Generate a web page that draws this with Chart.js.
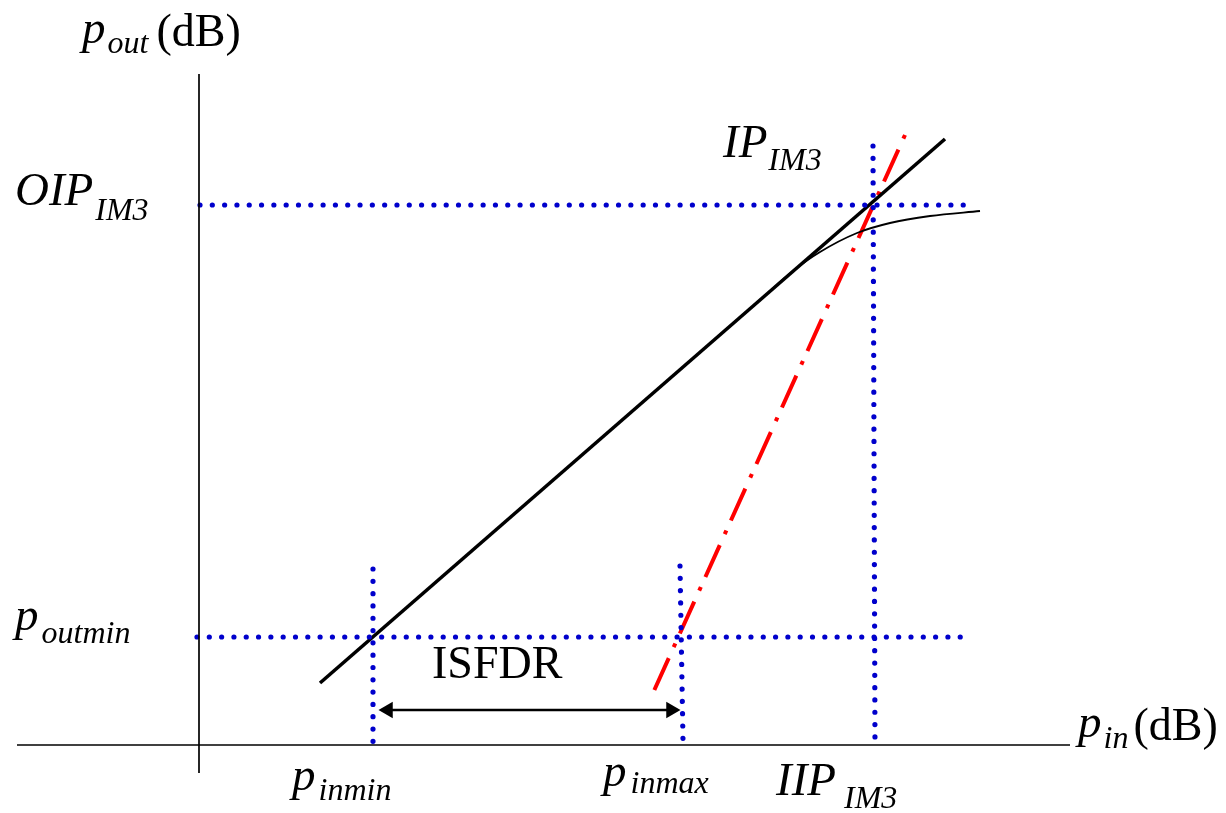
<!DOCTYPE html>
<html>
<head>
<meta charset="utf-8">
<script src="https://cdn.jsdelivr.net/npm/chart.js@4"></script>
<style>
  html, body { margin: 0; padding: 0; background: #fff; }
  #wrap { width: 1226px; height: 813px; }
</style>
</head>
<body>
<div id="wrap"><canvas id="ip3" width="1226" height="813"></canvas></div>
<script>
// input levels: p_inmin, p_inmax, IIP_IM3
const inputMarks = [174, 482, 675];
// output levels: p_outmin, OIP_IM3
const outputMarks = [108, 540];

// fundamental (slope 1) line
const fundIn = [121, 746];
const fundOut = [62, 606];
// third order intermod (slope 3) line
const im3In = [706, 454];
const im3Out = [610, 52];
// compressed real output
const compIn = [517, 561, 594, 621, 658, 691, 731, 781];
const compOut = [407, 445, 474, 493, 512, 522, 529, 534];

const pts = (xs, ys) => xs.map((x, i) => ({ x: x, y: ys[i] }));

const BLUE = "#0000cc";
const dotted = {
    borderColor: BLUE, borderWidth: 5.2, borderDash: [0.01, 12.3],
    borderCapStyle: "round", pointRadius: 0, showLine: true, fill: false
};

const SERIF = '"Liberation Serif", "Times New Roman", serif';
const IT = "italic 47px " + SERIF;
const IT_S = "italic 32px " + SERIF;
const UP = "46px " + SERIF;

// [text, font, gap before, baseline shift]
const labels = [
    { x: -117, y: 702, parts: [["p", IT, 0, 0], ["out", IT_S, 2, 10], ["(dB)", UP, 8, 3]] },
    { x: -184, y: 540, parts: [["OIP", IT, 0, 0], ["IM3", IT_S, 2, 15]] },
    { x: 524, y: 588, parts: [["IP", IT, 0, 0], ["IM3", IT_S, 1, 13]] },
    { x: -184, y: 115, parts: [["p", IT, 0, 0], ["outmin", IT_S, 3, 13]] },
    { x: 233, y: 67, parts: [["ISFDR", UP, 0, 0]] },
    { x: 93, y: -45, parts: [["p", IT, 0, 0], ["inmin", IT_S, 3, 10]] },
    { x: 404, y: -41, parts: [["p", IT, 0, 0], ["inmax", IT_S, 4, 7]] },
    { x: 577, y: -50, parts: [["IIP", IT, 0, 0], ["IM3", IT_S, 8, 13]] },
    { x: 879, y: 8, parts: [["p", IT, 0, 0], ["in", IT_S, 2, 11], ["(dB)", UP, 5, 3]] }
];

const textPlugin = {
    id: "texts",
    afterDatasetsDraw(chart) {
        const ctx = chart.ctx, xs = chart.scales.x, ys = chart.scales.y;
        ctx.save();
        ctx.fillStyle = "#000";
        ctx.textBaseline = "alphabetic";
        ctx.textAlign = "left";
        labels.forEach(l => {
            let px = xs.getPixelForValue(l.x);
            const py = ys.getPixelForValue(l.y);
            l.parts.forEach(p => {
                ctx.font = p[1];
                px += p[2];
                ctx.fillText(p[0], px, py + p[3]);
                px += ctx.measureText(p[0]).width;
            });
        });
        ctx.restore();
    }
};

new Chart(document.getElementById("ip3"), {
    type: "scatter",
    data: {
        datasets: [
            // axes
            { data: [{ x: -182, y: 0 }, { x: 871, y: 0 }], borderColor: "#000", borderWidth: 1.7, pointRadius: 0, showLine: true },
            { data: [{ x: 0, y: -28 }, { x: 0, y: 671 }], borderColor: "#000", borderWidth: 1.7, pointRadius: 0, showLine: true },
            // dotted guides
            Object.assign({ data: [{ x: 1, y: outputMarks[1] }, { x: 773, y: outputMarks[1] }] }, dotted),
            Object.assign({ data: [{ x: -2, y: outputMarks[0] }, { x: 771, y: outputMarks[0] }] }, dotted),
            Object.assign({ data: [{ x: inputMarks[0], y: 176 }, { x: inputMarks[0], y: 1 }] }, dotted),
            Object.assign({ data: [{ x: inputMarks[1] - 1, y: 179 }, { x: inputMarks[1] + 2, y: 4 }] }, dotted),
            Object.assign({ data: [{ x: inputMarks[2] - 1, y: 599 }, { x: inputMarks[2] + 1, y: 0 }] }, dotted),
            // compressed output
            { data: pts(compIn, compOut), borderColor: "#000", borderWidth: 1.8, pointRadius: 0, showLine: true, tension: 0.4, cubicInterpolationMode: "monotone" },
            // fundamental
            { data: pts(fundIn, fundOut), borderColor: "#000", borderWidth: 3.6, pointRadius: 0, showLine: true },
            // IM3
            { data: pts(im3In, im3Out), borderColor: "#ff0000", borderWidth: 4, borderDash: [4, 12, 35, 11], pointRadius: 0, showLine: true },
            // ISFDR arrow
            {
                data: [{ x: inputMarks[0] + 15, y: 35 }, { x: inputMarks[1] - 10, y: 35 }],
                borderColor: "#000", backgroundColor: "#000", borderWidth: 2.4, showLine: true,
                pointStyle: "triangle", pointRadius: 9.5, pointRotation: [270, 90], pointBorderWidth: 0
            }
        ]
    },
    options: {
        responsive: false,
        animation: false,
        devicePixelRatio: 1,
        layout: { padding: 0, autoPadding: false },
        plugins: { legend: { display: false }, tooltip: { enabled: false } },
        elements: { line: { tension: 0 } },
        scales: {
            x: { type: "linear", min: -199, max: 1027, display: false },
            y: { type: "linear", min: -68, max: 745, display: false }
        }
    },
    plugins: [textPlugin]
});
</script>
</body>
</html>
